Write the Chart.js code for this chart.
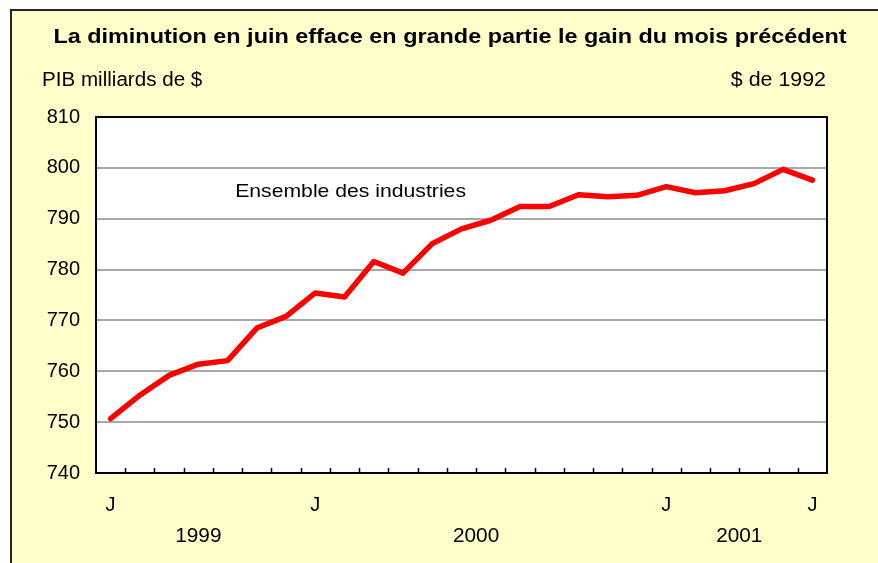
<!DOCTYPE html>
<html>
<head>
<meta charset="utf-8">
<script src="https://cdn.jsdelivr.net/npm/chart.js@4"></script>
<style>
  html, body { margin: 0; padding: 0; background: #fff; }
  canvas { display: block; }
</style>
</head>
<body>
<canvas id="chartPIB" width="878" height="563"></canvas>
<script>
/* ===== PIB mensuel - Ensemble des industries ===== */

// ---- Data (juin 1999 a juin 2001) ----
var tickLabels = ['J', '', '', '', '', '', '', 'J', '', '', '', '', '', '', '', '', '', '', '', 'J', '', '', '', '', 'J'];
var gdpValues = [750.7, 755.3, 759.2, 761.4, 762.1, 768.5, 770.8, 775.4, 774.6, 781.6, 779.3, 785.1,
                 788.0, 789.7, 792.4, 792.4, 794.7, 794.3, 794.6, 796.3, 795.1, 795.5, 796.9, 799.7, 797.6];
var yearLabels = ['1999', '2000', '2001'];
var yearMonths = [7, 12, 6];   // months of each year shown on the axis

var titleText = 'La diminution en juin efface en grande partie le gain du mois pr\u00e9c\u00e9dent';
var unitLeft = 'PIB milliards de $';
var unitRight = '$ de 1992';
var seriesName = 'Ensemble des industries';

var FONT = "'Liberation Sans', Arial, sans-serif";

// text a bit wider than the font, like the original export
function wideText(c, text, x, y, align, font, sx) {
  c.save();
  c.font = font;
  c.textAlign = align;
  c.textBaseline = 'middle';
  c.translate(x, y);
  c.scale(sx, 1);
  c.fillText(text, 0, 0);
  c.restore();
}

var decorPlugin = {
  id: 'decor',
  beforeDraw: function(chart) {
    var c = chart.ctx, a = chart.chartArea;
    c.save();
    c.fillStyle = '#ffffff';
    c.fillRect(0, 0, chart.width, chart.height);
    c.fillStyle = '#ffffcc';
    c.fillRect(11, 10, chart.width + 10, chart.height + 10);
    c.strokeStyle = '#222';
    c.lineWidth = 2;
    c.strokeRect(11, 10, chart.width + 10, chart.height + 10);
    c.fillStyle = '#ffffff';
    c.fillRect(a.left, a.top, a.right - a.left, a.bottom - a.top);
    c.restore();
  },
  afterDraw: function(chart) {
    var c = chart.ctx, a = chart.chartArea;
    var xs = chart.scales.x, ys = chart.scales.y;
    c.save();
    // plot frame
    c.strokeStyle = '#000';
    c.lineWidth = 2;
    c.strokeRect(a.left, a.top, a.right - a.left, a.bottom - a.top);
    // small inner tick marks between months
    c.lineWidth = 1.5;
    c.beginPath();
    for (var i = 1; i < tickLabels.length; i++) {
      var tx = Math.round((xs.getPixelForValue(i - 1) + xs.getPixelForValue(i)) / 2) + 0.5;
      c.moveTo(tx, a.bottom);
      c.lineTo(tx, a.bottom - 5);
    }
    c.stroke();

    c.fillStyle = '#000';
    wideText(c, titleText, 450, 37, 'center', 'bold 20px ' + FONT, 1.17);
    wideText(c, unitLeft, 42, 80, 'left', '20px ' + FONT, 1.03);
    wideText(c, unitRight, 826, 80, 'right', '20px ' + FONT, 1.07);
    // years under the month letters
    var start = 0;
    for (var k = 0; k < yearLabels.length; k++) {
      var mid = start + (yearMonths[k] - 1) / 2;
      wideText(c, yearLabels[k], xs.getPixelForValue(mid), 536, 'center', '20px ' + FONT, 1.04);
      start += yearMonths[k];
    }
    wideText(c, seriesName, xs.getPixelForValue(4.26), ys.getPixelForValue(795.3), 'left', '19px ' + FONT, 1.115);
    c.restore();
  }
};

var ctxPIB = document.getElementById('chartPIB').getContext('2d');
var chartPIB = new Chart(ctxPIB, {
  type: 'line',
  data: { labels: tickLabels, datasets: [{
    label: seriesName, data: gdpValues,
    borderColor: '#ff0000', borderWidth: 5.5,
    pointRadius: 0, fill: false, tension: 0,
    borderCapStyle: 'round', borderJoinStyle: 'round'
  }] },
  options: {
    responsive: false, animation: false, devicePixelRatio: 1,
    layout: { padding: { left: 0, right: 51, top: 117, bottom: 0 } },
    plugins: { legend: { display: false }, tooltip: { enabled: false } },
    scales: {
      x: {
        offset: true,
        grid: { display: false, drawTicks: false },
        border: { display: false },
        ticks: { autoSkip: false, maxRotation: 0, color: '#000', padding: 20, font: { family: FONT, size: 20 } },
        afterFit: function(s) { s.height = 90; }
      },
      y: {
        min: 740, max: 810,
        grid: { color: '#a8a8a8', lineWidth: 2, drawTicks: false },
        border: { display: false },
        ticks: { stepSize: 10, color: '#000', padding: 16, font: { family: FONT, size: 20 } },
        afterFit: function(s) { s.width = 96; }
      }
    }
  },
  plugins: [decorPlugin]
});
</script>
</body>
</html>
